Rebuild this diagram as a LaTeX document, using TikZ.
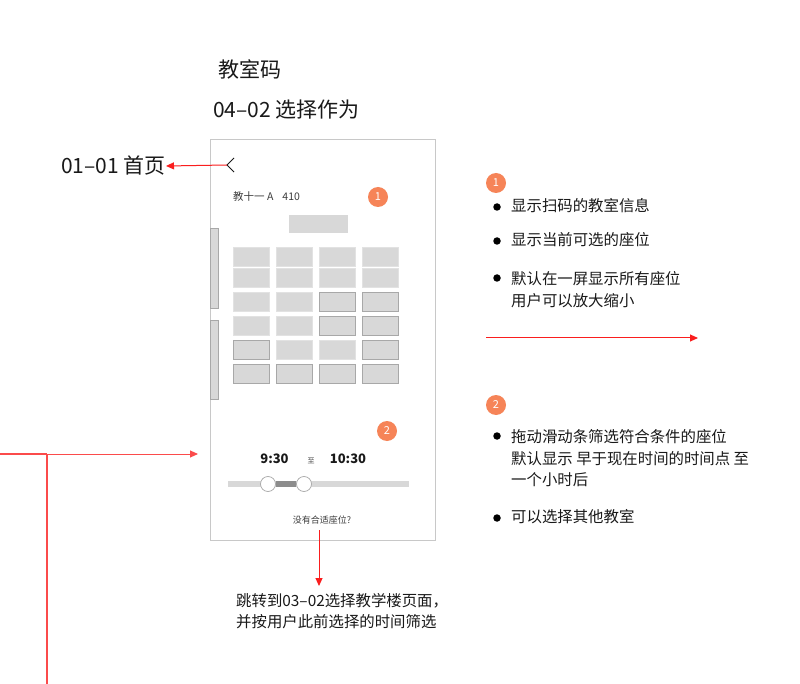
\documentclass[tikz,border=0pt]{standalone}
\usepackage{fontspec}
\setmainfont{Noto Sans CJK SC}
\usetikzlibrary{arrows.meta}
\definecolor{badgeorange}{RGB}{246,132,88}
\definecolor{seatfill}{RGB}{216,216,216}
\definecolor{seatline}{RGB}{226,226,226}
\definecolor{seatdark}{RGB}{168,168,168}
\definecolor{frameline}{RGB}{200,200,200}
\definecolor{linkred}{RGB}{250,30,30}
\definecolor{txt}{RGB}{25,25,25}
\tikzset{
  redarrow/.style={draw=linkred, line width=1pt, -{Triangle[length=8pt,width=7pt]}},
  redline/.style={draw=linkred!80, line width=1.2pt},
  badge/.style={circle, fill=badgeorange, text=white, minimum size=20pt, inner sep=0pt, font=\fontsize{11}{11}\selectfont},
  seat/.style={draw=seatline, fill=seatfill, minimum width=36pt, minimum height=19pt, inner sep=0pt, line width=0.6pt},
  seatb/.style={seat, draw=seatdark, line width=0.9pt},
  sidebar/.style={draw=seatdark, fill=seatfill, line width=0.6pt},
  bigtxt/.style={anchor=west, inner sep=0pt, text=txt, font=\fontsize{21}{24}\selectfont},
  note/.style={anchor=west, inner sep=0pt, text=txt, align=left, font=\fontsize{15.4}{21.5}\selectfont},
  dot/.style={circle, fill=black, minimum size=7.5pt, inner sep=0pt},
  knob/.style={circle, draw=seatdark, fill=white, minimum size=15pt, inner sep=0pt, line width=0.7pt},
}
\begin{document}
\begin{tikzpicture}[x=1pt,y=-1pt]
\useasboundingbox (0,0) rectangle (800,684);
\fill[white] (0,0) rectangle (800,684);

% titles
\node[bigtxt] (title) at (218,69) {教室码};
\node[bigtxt] (page) at (213,110) {04–02 选择作为};
\node[bigtxt, anchor=east] (home) at (166,166) {01–01 首页};

% phone frame
\node[draw=frameline, line width=1pt, minimum width=225pt, minimum height=400pt, inner sep=0pt] (phone) at (322.5,340) {};
\draw[sidebar] (210,228) rectangle (218,308);
\draw[sidebar] (210,320) rectangle (218,399);

% back chevron
\coordinate (back) at (227,165);
\draw[txt, line width=1pt] (234,158) -- (back) -- (234,172);
\draw[redarrow] (back) -- (home.east);

\node[anchor=west, inner sep=0pt, text=txt!85, font=\fontsize{10.5}{12}\selectfont] (room) at (233,197) {教十一 A\hspace{9pt}410};
\node[badge] (b1) at (378,197) {1};

\node[fill=seatfill, minimum width=59pt, minimum height=18pt, inner sep=0pt] (board) at (318.5,224) {};

% seats
\foreach \r/\y in {1/256.5,2/278,3/301.5,4/326,5/350,6/374}{
  \foreach \c/\x in {1/251,2/294,3/337,4/380}{
    \node[seat] (s\r\c) at (\x,\y) {};
  }
}
\foreach \r/\c in {3/3,3/4,4/3,4/4,5/1,5/4,6/1,6/2,6/3,6/4}{
  \node[seatb] at (s\r\c) {};
}

\node[badge] (b2) at (387,431) {2};

% time
\node[inner sep=0pt, text=txt, font=\fontsize{13}{14}\selectfont\bfseries] (t1) at (274.5,459) {9:30};
\node[inner sep=0pt, text=txt!80, font=\fontsize{7}{8}\selectfont] (to) at (311,461) {至};
\node[inner sep=0pt, text=txt, font=\fontsize{13}{14}\selectfont\bfseries] (t2) at (348,459) {10:30};

% slider
\coordinate (trackL) at (228,484);
\coordinate (trackR) at (409,484);
\draw[seatfill, line width=6pt] (trackL) -- (trackR);
\node[knob] (k1) at (268,484) {};
\node[knob] (k2) at (304,484) {};
\draw[black!45, line width=6pt] (k1.east) -- (k2.west);

\node[inner sep=0pt, text=txt!85, font=\fontsize{9}{10}\selectfont] (noseat) at (322,520) {没有合适座位?};

% jump note
\node[note, anchor=north west] (jump) at (236,593) {跳转到03–02选择教学楼页面，\\并按用户此前选择的时间筛选};
\coordinate (nsbot) at (319,530);
\coordinate (jtop) at (319,586);
\draw[redarrow] (nsbot) -- (jtop);

% right annotations, group 1
\node[badge] (r1) at (496,183) {1};
\node[dot] (d11) at (497,207) {};
\node[note] (n11) at (511,206) {显示扫码的教室信息};
\node[dot] (d12) at (497,241) {};
\node[note] (n12) at (511,240) {显示当前可选的座位};
\node[dot] (d13) at (497,278) {};
\node[note, anchor=north west] (n13) at (511,271.5) {默认在一屏显示所有座位\\用户可以放大缩小};
\coordinate (ra) at (486,338);
\coordinate (rb) at (698,338);
\draw[redarrow] (ra) -- (rb);

% right annotations, group 2
\node[badge] (r2) at (496,405) {2};
\node[dot] (d21) at (497,436) {};
\node[note, anchor=north west] (n21) at (511,429.5) {拖动滑动条筛选符合条件的座位\\默认显示 早于现在时间的时间点 至\\一个小时后};
\node[dot] (d22) at (497,518) {};
\node[note] (n22) at (511,517) {可以选择其他教室};

% left connector
\coordinate (lstart) at (0,454);
\coordinate (ljunc) at (47,454);
\coordinate (lend) at (198,454);
\coordinate (ldown) at (47,684);
\draw[redline] (lstart) -- (ljunc);
\draw[redarrow, draw=linkred!80] (ljunc) -- (lend);
\draw[redline] (ljunc) -- (ldown);
\end{tikzpicture}
\end{document}
